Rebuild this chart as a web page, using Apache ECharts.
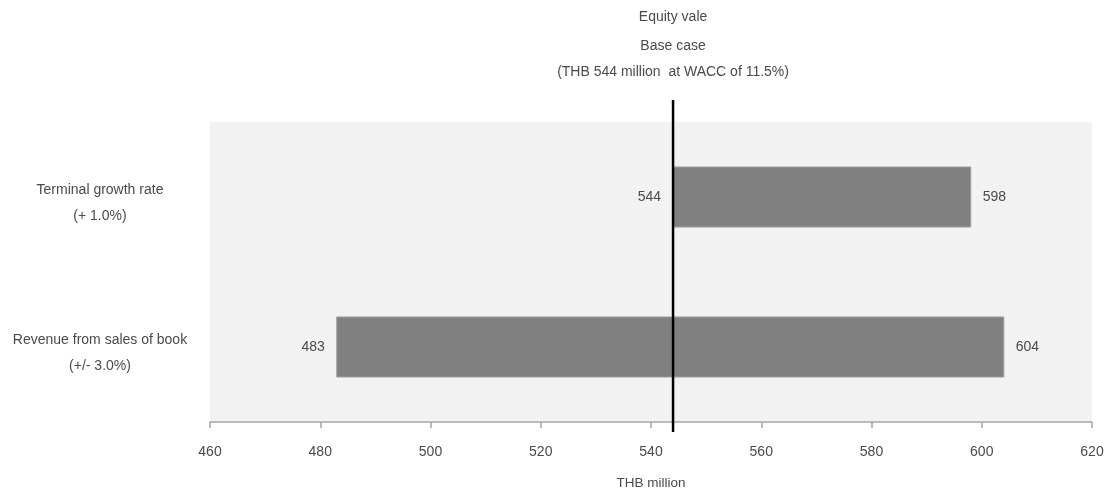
<!DOCTYPE html>
<html>
<head>
<meta charset="utf-8">
<style>
  html, body { margin: 0; padding: 0; background: #ffffff; }
  #chart { width: 1108px; height: 492px; }
</style>
<script src="https://cdn.jsdelivr.net/npm/echarts@6/dist/echarts.min.js"></script>
</head>
<body>
<div id="chart"></div>
<script>
// Sensitivity of equity value (THB million) to two drivers
const categories = ['Terminal growth rate', 'Revenue from sales of book'];
const sensitivities = ['(+ 1.0%)', '(+/- 3.0%)'];
const lowValues = [544, 483];
const highValues = [598, 604];
const baseValue = 544;
const titleLines = ['Equity vale', 'Base case', '(THB 544 million  at WACC of 11.5%)'];
const axisMin = 460, axisMax = 620, axisStep = 20;

const FONT = '"Liberation Sans", Arial, sans-serif';
const TEXT = '#4a4a4a';

const chart = echarts.init(document.getElementById('chart'));

const rangeData = categories.map((c, i) => [lowValues[i], highValues[i], i]);

chart.setOption({
  animation: false,
  textStyle: { fontFamily: FONT },
  grid: {
    left: 210, right: 16, top: 122, bottom: 70,
    outerBoundsMode: 'none',
    show: true, backgroundColor: '#f2f2f2', borderWidth: 0
  },
  xAxis: {
    type: 'value',
    min: axisMin, max: axisMax, interval: axisStep,
    name: 'THB million',
    nameLocation: 'middle',
    nameGap: 54,
    nameTextStyle: { color: TEXT, fontSize: 13.5, fontFamily: FONT },
    axisLine: { show: true, lineStyle: { color: '#a6a6a6', width: 1.5 } },
    axisTick: { show: true, length: 6, lineStyle: { color: '#a6a6a6', width: 1.5 } },
    axisLabel: { color: TEXT, fontSize: 14, margin: 23, fontFamily: FONT },
    splitLine: { show: false }
  },
  yAxis: {
    type: 'category',
    data: categories,
    inverse: true,
    axisLine: { show: false },
    axisTick: { show: false },
    axisLabel: {
      align: 'center',
      margin: 110,
      color: TEXT,
      fontSize: 14,
      fontFamily: FONT,
      // a thin spacer line above the two text lines nudges the block downward
      formatter: (v, i) => '{pad| }\n{a|' + v + '}\n{a|' + sensitivities[i] + '}',
      rich: {
        pad: { fontSize: 1, lineHeight: 13 },
        a: { fontSize: 14, lineHeight: 26, color: TEXT, fontFamily: FONT }
      }
    }
  },
  series: [
    {
      type: 'custom',
      name: 'range',
      data: rangeData,
      encode: { x: [0, 1], y: 2 },
      renderItem: (params, api) => {
        const lo = api.value(0), hi = api.value(1), cat = api.value(2);
        const p0 = api.coord([lo, cat]);
        const p1 = api.coord([hi, cat]);
        const h = api.size([0, 1])[1] * 0.4;
        return {
          type: 'group',
          children: [
            {
              type: 'rect',
              shape: { x: p0[0], y: p0[1] - h / 2, width: p1[0] - p0[0], height: h },
              style: { fill: '#808080', stroke: '#9a9a9a', lineWidth: 1 }
            },
            {
              type: 'text',
              x: p0[0] - 12, y: p0[1],
              style: { text: String(lo), textAlign: 'right', textVerticalAlign: 'middle',
                       fill: TEXT, font: '14px ' + FONT }
            },
            {
              type: 'text',
              x: p1[0] + 12, y: p1[1],
              style: { text: String(hi), textAlign: 'left', textVerticalAlign: 'middle',
                       fill: TEXT, font: '14px ' + FONT }
            }
          ]
        };
      },
      z: 2
    },
    {
      // base-case marker extending above and below the plot area
      type: 'custom',
      name: 'base',
      data: [[baseValue, 0]],
      encode: { x: 0, y: 1 },
      clip: false,
      renderItem: (params, api) => {
        const cs = params.coordSys;
        const x = api.coord([api.value(0), 0])[0];
        return {
          type: 'line',
          shape: { x1: x, y1: cs.y - 22, x2: x, y2: cs.y + cs.height + 10 },
          style: { stroke: '#000000', lineWidth: 2.5 }
        };
      },
      z: 5
    }
  ]
});

// Heading stacked above the base-case line
const baseX = chart.convertToPixel({ xAxisIndex: 0 }, baseValue);
const titleY = [17, 46, 72];
chart.setOption({
  graphic: titleLines.map((t, i) => ({
    type: 'text',
    x: baseX, y: titleY[i],
    style: {
      text: t, textAlign: 'center', textVerticalAlign: 'middle',
      fill: TEXT, font: '14px ' + FONT
    }
  }))
});
</script>
</body>
</html>
